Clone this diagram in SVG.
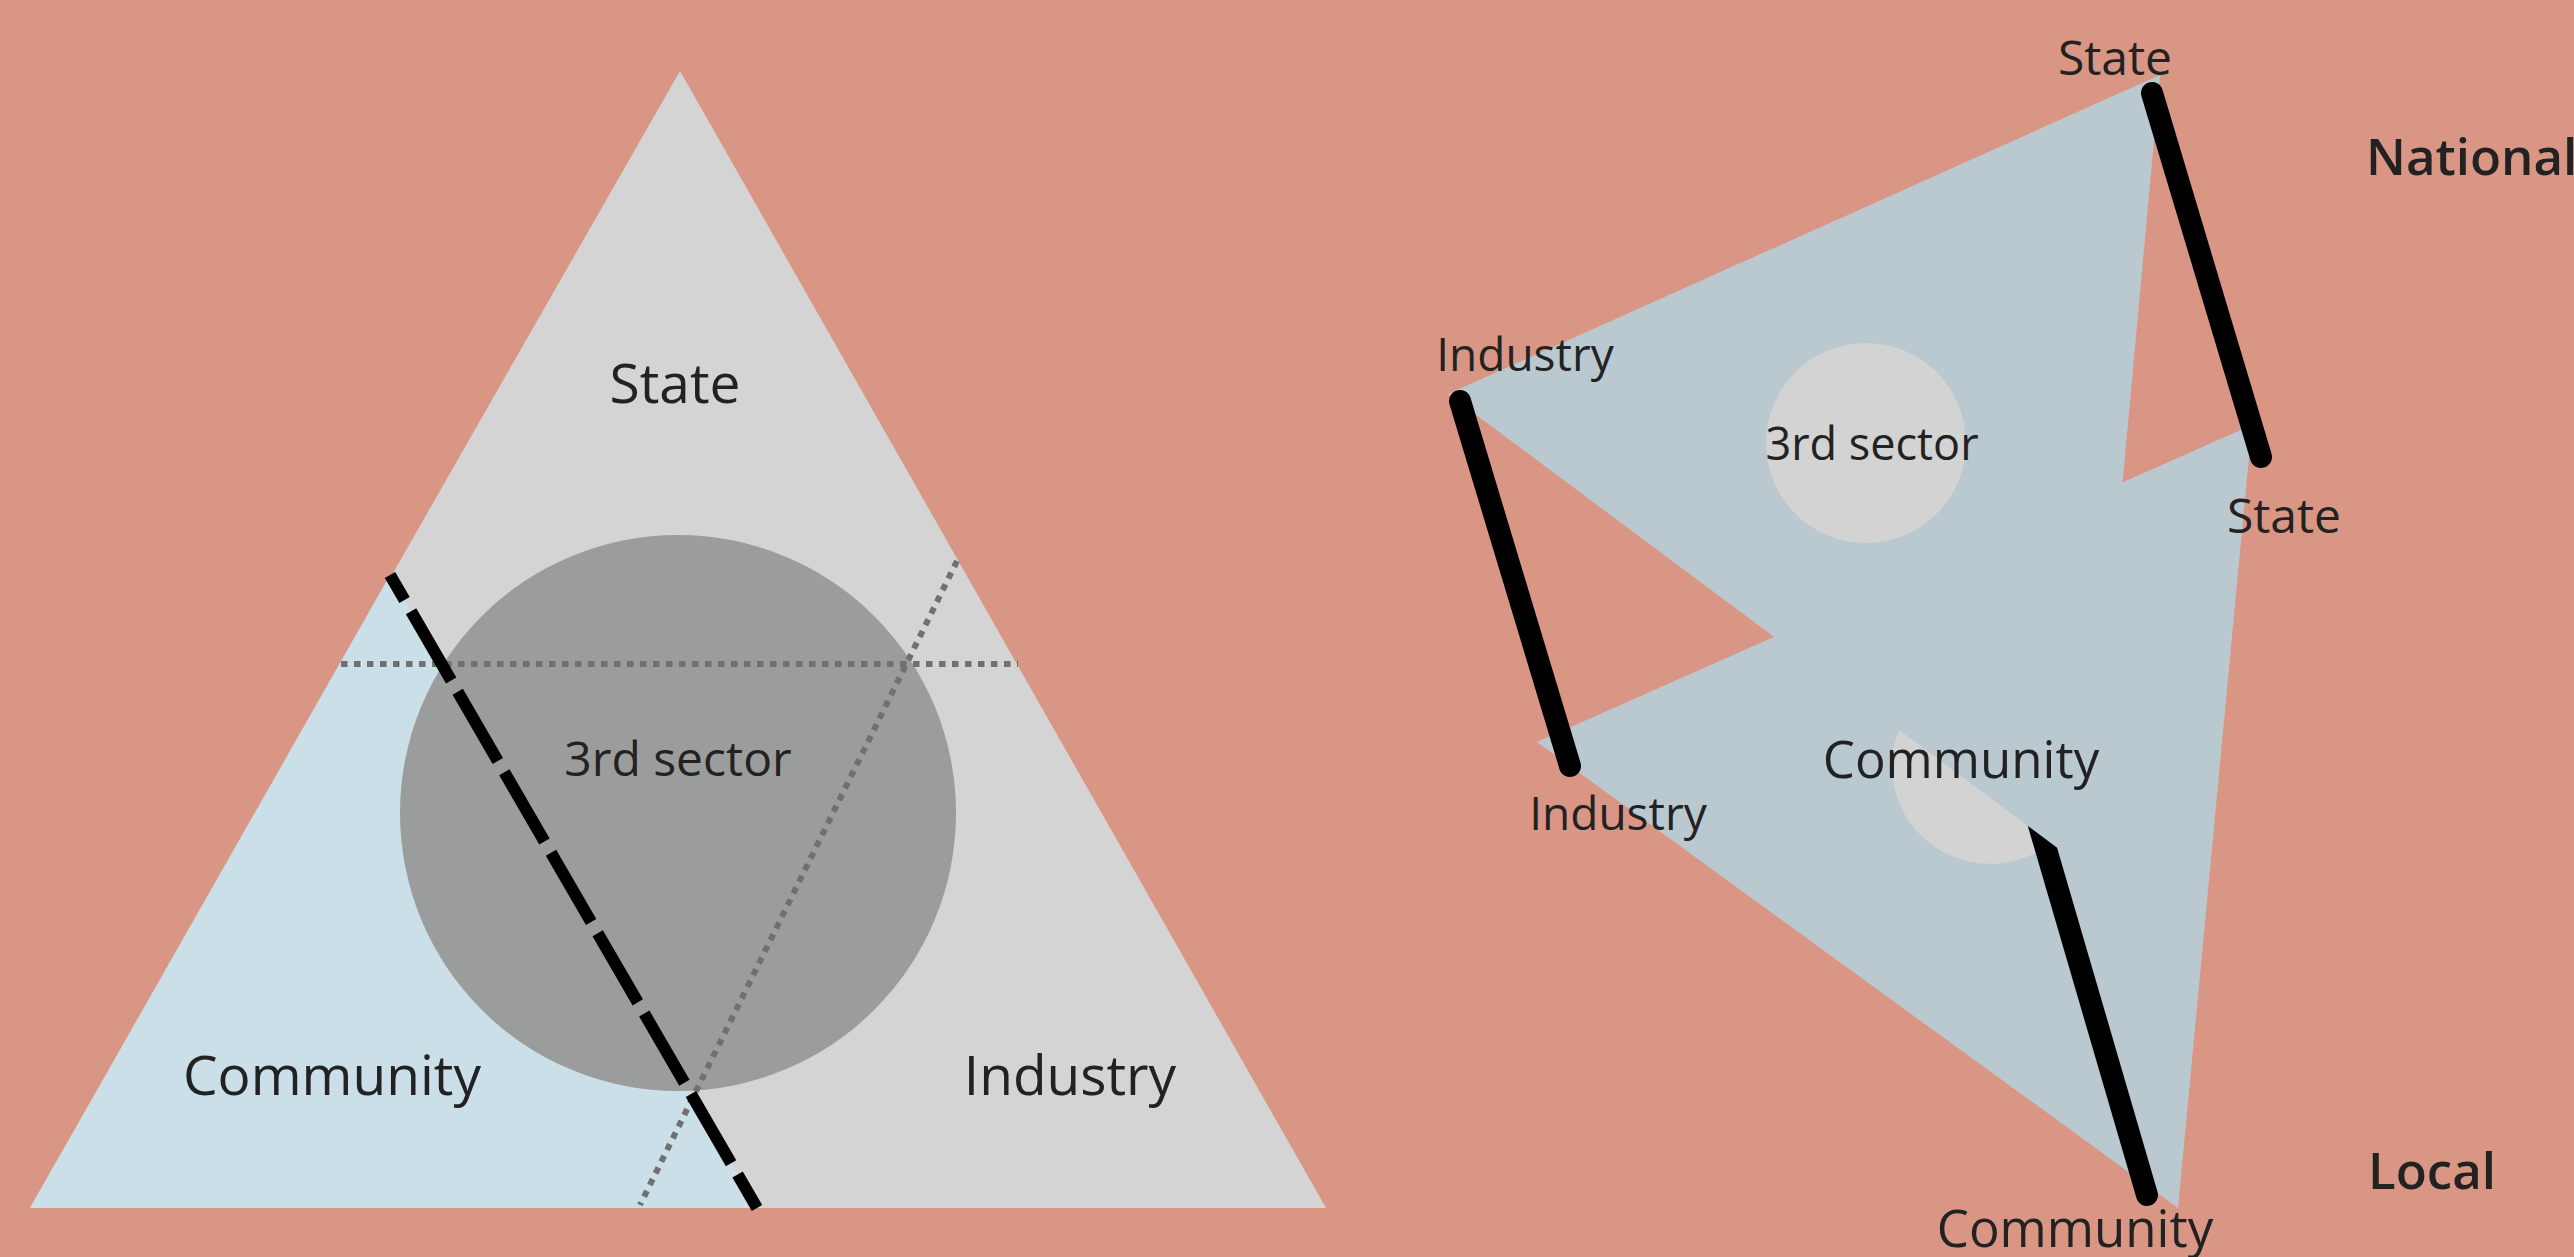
<svg xmlns="http://www.w3.org/2000/svg" width="2574" height="1257" viewBox="0 0 2574 1257">
<style>
  .lbl { font-family: "Open Sans", "Liberation Sans", sans-serif; fill: #222222; text-anchor: middle; }
  .lvl { font-family: "Open Sans", "Liberation Sans", sans-serif; fill: #222222; font-weight: 600; }
  .dots { stroke: #6f7070; stroke-width: 6; stroke-dasharray: 6.5 6.5; fill: none; }
  .bar { stroke: #000000; stroke-width: 22; stroke-linecap: round; fill: none; }
</style>
<rect x="0" y="0" width="2574" height="1257" fill="#da9685"/>

<!-- Left diagram -->
<g id="left-triangle">
  <polygon points="680,71 30,1208 1326,1208" fill="#d4d4d4"/>
  <polygon id="community-region" points="30,1208 390,575 757,1208" fill="#cbdfe9"/>
</g>
<g id="third-sector-left">
  <circle cx="678" cy="813" r="278" fill="#9b9c9c"/>
</g>
<g id="connectors-left">
  <line class="dots" x1="341" y1="664" x2="1018" y2="664"/>
  <line class="dots" x1="957" y1="561" x2="640" y2="1205"/>
  <line x1="390" y1="575" x2="757" y2="1208" stroke="#000000" stroke-width="12" stroke-dasharray="80 13" stroke-dashoffset="51"/>
</g>
<g id="labels-left">
  <text class="lbl" x="675" y="403" font-size="55">State</text>
  <text class="lbl" x="678" y="776" font-size="48">3rd sector</text>
  <text class="lbl" x="332" y="1095" font-size="55">Community</text>
  <text class="lbl" x="1070" y="1095" font-size="55">Industry</text>
</g>

<!-- Right diagram -->
<g id="local-triangle">
  <polygon points="1537,742 2252,425 2178,1208" fill="#bac8d0"/>
  <circle cx="1990" cy="766" r="98" fill="#d3d3d3"/>
</g>
<g id="connectors-right">
  <line x1="2147" y1="1195" x2="2020" y2="760" class="bar"/>
</g>
<g id="national-triangle">
  <polygon points="2160,75 1448,394 2087,870" fill="#bac8d0"/>
  <circle cx="1866" cy="443" r="100" fill="#d3d3d3"/>
</g>
<g id="connectors-right-top">
  <line class="bar" x1="2152" y1="93" x2="2261" y2="457"/>
  <line class="bar" x1="1460" y1="401" x2="1570" y2="766"/>
</g>
<g id="labels-right">
  <text class="lbl" x="2115" y="75" font-size="48">State</text>
  <text class="lbl" x="1525" y="371" font-size="46">Industry</text>
  <text class="lbl" x="1872" y="460" font-size="45">3rd sector</text>
  <text class="lbl" x="2284" y="533" font-size="48">State</text>
  <text class="lbl" x="1961" y="778" font-size="51">Community</text>
  <text class="lbl" x="1618" y="830" font-size="46">Industry</text>
  <text class="lbl" x="2075" y="1247" font-size="51">Community</text>
  <text class="lvl" x="2366" y="175" font-size="51">National</text>
  <text class="lvl" x="2368" y="1189" font-size="51">Local</text>
</g>
</svg>
